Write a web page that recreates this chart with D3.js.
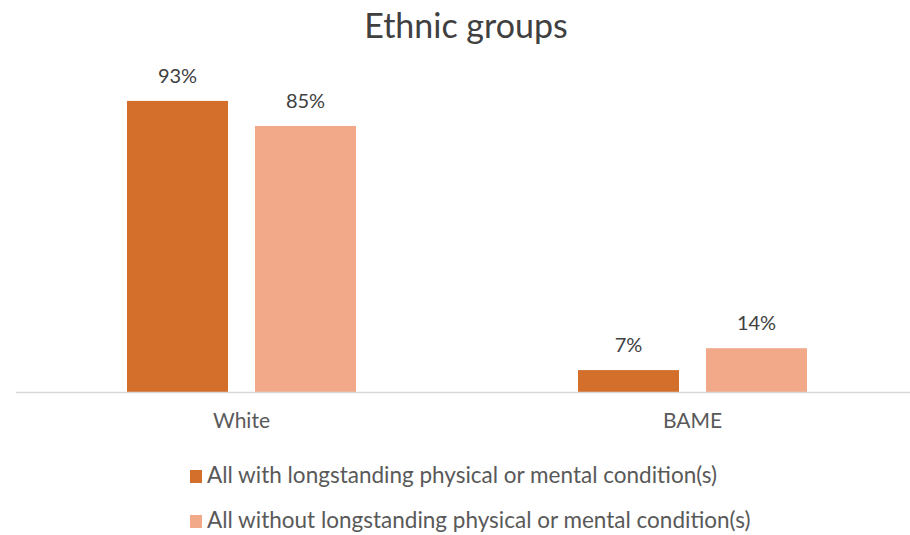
<!DOCTYPE html>
<html><head><meta charset="utf-8">
<script src="https://cdn.jsdelivr.net/npm/d3@7"></script>
<style>body{margin:0;background:#fff;} text{font-family:Lato, "Open Sans", sans-serif;}</style>
</head><body><svg id="c" width="910" height="535"></svg>
<script>
const categories = ["White", "BAME"];
const seriesNames = ["All with longstanding physical or mental condition(s)", "All without longstanding physical or mental condition(s)"];
const withCondition = [93, 7];
const withoutCondition = [85, 14];
const colors = ["#D36F2B", "#F1A98A"];

const svg = d3.select("#c");
const x0 = d3.scaleBand().domain(categories).range([16, 918]).paddingInner(0).paddingOuter(0);
const y = d3.scaleLinear().domain([0, 100]).range([392, 79]);

svg.append("text").attr("x", 466).attr("y", 38).attr("text-anchor","middle")
  .attr("font-size", 34).attr("fill","#404040").text("Ethnic groups");

const series = [withCondition, withoutCondition];
categories.forEach((c, i) => {
  const start = x0(c) + x0.bandwidth()/2 - 114.5;
  series.forEach((s, j) => {
    const bx = start + (j===0 ? 0 : 128);
    svg.append("rect").attr("x", bx).attr("width", 101)
      .attr("y", y(s[i])).attr("height", y(0)-y(s[i])).attr("fill", colors[j]);
    svg.append("text").attr("x", bx+50.5).attr("y", y(s[i]) - 18).attr("text-anchor","middle")
      .attr("font-size", 20).attr("fill","#404040").text(s[i] + "%");
  });
});

svg.append("line").attr("x1",16).attr("x2",910).attr("y1",392.5).attr("y2",392.5)
  .attr("stroke","#d9d9d9").attr("stroke-width",1.5);

const ax = svg.append("g").attr("transform","translate(0,392)")
  .call(d3.axisBottom(x0).tickSize(0).tickPadding(21));
ax.select(".domain").remove();
ax.selectAll("text").attr("font-size", 21).attr("fill","#595959").style("font-family","Lato, sans-serif");

seriesNames.forEach((n, j) => {
  const ly = 483 + j*45;
  svg.append("rect").attr("x",190).attr("y", ly-13).attr("width",12).attr("height",13).attr("fill",colors[j]);
  svg.append("text").attr("x",207).attr("y",ly).attr("font-size",22.5).attr("fill","#595959").text(n);
});
</script></body></html>
